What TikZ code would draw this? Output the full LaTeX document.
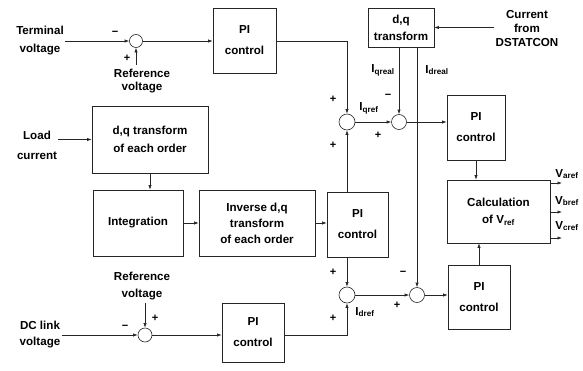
\documentclass[tikz,border=0pt]{standalone}
\usepackage{fontspec}
\setmainfont{Liberation Sans}
\usetikzlibrary{arrows.meta}
\begin{document}
\begin{tikzpicture}[x=1pt,y=-1pt,
  blk/.style={draw=black!85, line width=0.6pt, align=center, inner sep=0pt,
    font=\bfseries\fontsize{11.6}{#1}\selectfont},
  blk/.default=17,
  sumc/.style={circle, draw=black!85, line width=0.6pt, inner sep=0pt, minimum size=#1},
  lbl/.style={align=center, inner sep=1pt, font=\bfseries\fontsize{11.6}{#1}\selectfont},
  lbl/.default=16,
  sgn/.style={inner sep=0pt, font=\bfseries\fontsize{11}{12}\selectfont},
  con/.style={draw=black!85, line width=0.6pt},
  arr/.style={con, -{Latex[length=4.5pt,width=3.2pt]}}
]
\useasboundingbox (0,0) rectangle (583,370);
% blocks
\node[blk=21, minimum width=63pt, minimum height=65pt] (pi1) at (244.5,40.5) {PI\\control};
\node[blk=17, minimum width=66pt, minimum height=39pt] (dq2) at (401,27.5) {d,q\\transform};
\node[blk=21, minimum width=58pt, minimum height=65pt] (pi4) at (476,127.5) {PI\\control};
\node[blk=17, minimum width=103pt, minimum height=63pt] (calc) at (498.5,211.5) {Calculation\\of V\textsubscript{ref}};
\node[blk=21, minimum width=62pt, minimum height=64pt] (pi5) at (479,297) {PI\\control};
\node[blk=18, minimum width=116pt, minimum height=67pt] (dq1) at (150,139.5) {d,q transform\\of each order};
\node[blk, minimum width=90pt, minimum height=66pt] (integ) at (138,223) {Integration};
\node[blk=16, minimum width=116pt, minimum height=66pt] (inv) at (257,223) {Inverse d,q\\transform\\of each order};
\node[blk=21, minimum width=61pt, minimum height=65pt] (pi2) at (357.5,224.5) {PI\\control};
\node[blk=21, minimum width=62pt, minimum height=59pt] (pi3) at (253,332.5) {PI\\control};
% summing junctions
\node[sumc=13pt] (s1) at (136,41) {};
\node[sumc=16pt] (s2) at (347,122) {};
\node[sumc=15pt] (s3) at (399,122) {};
\node[sumc=16pt] (s4) at (347,295) {};
\node[sumc=15pt] (s5) at (417,295) {};
\node[sumc=14pt] (s6) at (145,335) {};
% labels
\node[lbl=18] (tv) at (40,41) {Terminal\\voltage};
\node[lbl=13, inner sep=4pt] (refv1) at (142,81) {Reference\\voltage};
\node[lbl=14] (dstat) at (527,29) {Current\\from\\DSTATCON};
\node[lbl=20] (load) at (37,145) {Load\\current};
\node[lbl=16] (dc) at (40,335) {DC link\\voltage};
\node[lbl=17, inner sep=3pt] (refv2) at (142,286) {Reference\\voltage};
\node[lbl] (iqreal) at (383,70) {I\textsubscript{qreal}};
\node[lbl] (idreal) at (437,70) {I\textsubscript{dreal}};
\node[lbl] (iqref) at (369,108) {I\textsubscript{qref}};
\node[lbl] (idref) at (365,312) {I\textsubscript{dref}};
\node[lbl] (varef) at (567,174) {V\textsubscript{aref}};
\node[lbl] (vbref) at (567,201) {V\textsubscript{bref}};
\node[lbl] (vcref) at (567,226) {V\textsubscript{cref}};
% signs
\node[sgn] (m1) at (115,33) {−};
\node[sgn] (p1) at (127,58) {+};
\node[sgn] (p2) at (333,99) {+};
\node[sgn] (p3) at (333,145) {+};
\node[sgn] (m2) at (388,96) {−};
\node[sgn] (p4) at (378,135) {+};
\node[sgn] (p5) at (333,272) {+};
\node[sgn] (p6) at (333,318) {+};
\node[sgn] (m3) at (403,273) {−};
\node[sgn] (p7) at (397,305) {+};
\node[sgn] (m4) at (125,327) {−};
\node[sgn] (p8) at (155,318) {+};
% output coordinates
\coordinate (va) at (562,183);
\coordinate (vb) at (562,212);
\coordinate (vc) at (562,238);
% connectors
\draw[arr] (tv.east |- s1.west) -- (s1.west);
\draw[arr] (refv1.north -| s1) -- (s1.south);
\draw[arr] (s1.east) -- (s1.east -| pi1.west);
\draw[arr] (pi1.east |- s1) -- (s1 -| s2) -- (s2.north);
\draw[arr] (dstat.west |- dq2.east) -- (dq2.east);
\draw[arr] (dq2.south -| s3) -- (s3.north);
\draw[arr] (dq2.south -| s5) -- (s5.north);
\draw[arr] (s2.east) -- (s3.west);
\draw[arr] (s3.east) -- (s3.east -| pi4.west);
\draw[arr] (pi4.south) -- (calc.north -| pi4.south);
\draw[arr] (pi5.north) -- (calc.south -| pi5.north);
\draw[arr] (s5.east) -- (s5.east -| pi5.west);
\draw[arr] (calc.east |- va) -- (va);
\draw[arr] (calc.east |- vb) -- (vb);
\draw[arr] (calc.east |- vc) -- (vc);
\draw[arr] (load.east |- dq1.west) -- (dq1.west);
\draw[arr] (dq1.south) -- (dq1.south |- integ.north);
\draw[arr] (integ.east) -- (inv.west);
\draw[arr] (inv.east) -- (inv.east -| pi2.west);
\draw[arr] (pi2.north -| s2) -- (s2.south);
\draw[arr] (pi2.south -| s4) -- (s4.north);
\draw[arr] (s4.east) -- (s5.west);
\draw[arr] (dc.east |- s6.west) -- (s6.west);
\draw[arr] (refv2.south -| s6) -- (s6.north);
\draw[arr] (s6.east) -- (s6.east -| pi3.west);
\draw[arr] (pi3.east |- s6) -- (s6 -| s4) -- (s4.south);
\end{tikzpicture}
\end{document}
